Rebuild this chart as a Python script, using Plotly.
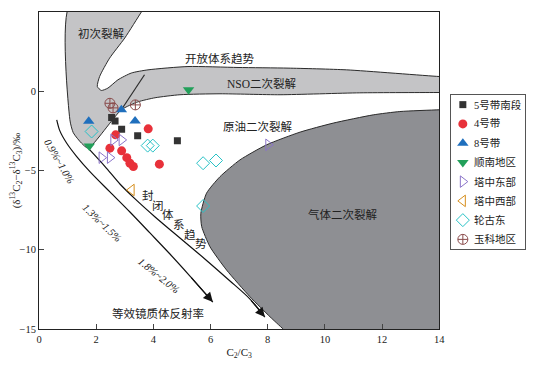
import plotly.graph_objects as go

# ---------------- data ----------------
series_names = ["5号带南段", "4号带", "8号带", "顺南地区", "塔中东部", "塔中西部", "轮古东", "玉科地区"]

s5_x = [2.54, 2.66, 2.89, 3.45, 4.84]
s5_y = [-1.66, -1.87, -2.39, -2.80, -3.13]

s4_x = [2.68, 2.48, 2.89, 3.07, 3.18, 3.30, 3.82, 4.21]
s4_y = [-2.75, -3.59, -3.76, -4.19, -4.54, -4.75, -2.37, -4.60]

s8_x = [1.74, 2.88, 3.36]
s8_y = [-1.89, -1.17, -1.87]

sn_x = [5.23, 1.76]
sn_y = [0.09, -3.45]

tzd_x = [2.60, 2.89, 2.19, 2.48, 8.02]
tzd_y = [-3.07, -3.07, -4.19, -4.19, -3.38]

tzx_x = [3.24]
tzx_y = [-6.23]

lgd_x = [1.84, 3.80, 3.98, 5.74, 6.19, 5.74]
lgd_y = [-2.54, -3.43, -3.43, -4.54, -4.37, -7.24]

yk_x = [2.48, 2.59, 3.37]
yk_y = [-0.76, -1.05, -0.86]

# region boundaries (diagram outlines, data units)
upper_x = [1.09, 3.76, 3.58, 3.00, 2.47, 2.12, 2.04, 2.18, 2.41, 2.76, 3.23, 3.81, 5.21, 6.96, 8.71,
           10.76, 14.0, 14.5, 14.5, 14.0, 11.22, 8.43, 6.33, 4.93, 4.06, 3.46, 2.88, 1.72, 1.49,
           1.20, 1.08, 1.09]
upper_y = [5.5, 5.5, 5.0, 3.36, 2.09, 0.93, 0.30, 0.05, 0.20, 0.72, 1.15, 1.35, 1.56, 1.50, 1.46,
           1.35, 0.93, 0.90, -0.08, -0.08, -0.10, -0.22, -0.16, -0.22, -0.41, -0.67, -1.17, -3.59,
           -3.28, -2.62, -1.80, 5.5]

lower_x = [14.5, 14.0, 12.62, 11.69, 10.29, 9.13, 7.96, 7.03, 6.33, 5.86, 5.66, 5.69, 5.98, 6.56,
           7.38, 8.08, 8.54, 8.85, 14.5, 14.5]
lower_y = [-1.15, -1.17, -1.28, -1.49, -2.01, -2.58, -3.38, -4.33, -5.39, -6.43, -7.70, -8.54,
           -9.81, -11.28, -12.97, -14.23, -15.0, -15.5, -15.5, -1.15]

divider_x = [3.69, 2.88]
divider_y = [1.04, -1.17]

lineA_x = [0.62, 0.73, 0.97, 1.32, 1.78, 2.48, 3.18, 3.88, 4.58, 5.28, 6.08]
lineA_y = [-1.80, -2.50, -3.28, -4.12, -5.07, -6.35, -7.62, -8.94, -10.27, -11.66, -13.30]

lineB_x = [1.72, 2.31, 2.83, 3.36, 4.06, 4.93, 5.80, 6.68, 7.38, 7.90]
lineB_y = [-3.59, -4.75, -5.85, -6.79, -7.93, -9.26, -10.58, -11.97, -13.11, -14.25]

x_ticks = [0, 2, 4, 6, 8, 10, 12, 14]
y_ticks = [5, 0, -5, -10, -15]

# ---------------- figure ----------------
FONT = "Liberation Serif, Noto Sans CJK SC"
DARK = "#2b2b2b"

# page has an 8px body margin; figure is sized so the plot lands where the reference has it
W, H = 526, 363
ML, MT, MB = 31, 4, 42
PLOT_W = 494                       # width of the full domain area (W - ML - 1)
MAIN_DOM = [0, 400.3 / PLOT_W]
LEG_DOM_X = [(443 - ML) / PLOT_W, (517 - ML) / PLOT_W]
PH = H - MT - MB
LEG_DOM_Y = [(H - MB - 241) / PH, (H - MB - 87) / PH]

fig = go.Figure()

fig.add_trace(go.Scatter(x=upper_x, y=upper_y, mode="lines", fill="toself",
                         fillcolor="#c4c4c6", line=dict(color=DARK, width=1, shape="spline", smoothing=0.6),
                         showlegend=False, hoverinfo="skip"))
fig.add_trace(go.Scatter(x=lower_x, y=lower_y, mode="lines", fill="toself",
                         fillcolor="#8e8f93", line=dict(color=DARK, width=1, shape="spline", smoothing=0.6),
                         showlegend=False, hoverinfo="skip"))
fig.add_trace(go.Scatter(x=divider_x, y=divider_y, mode="lines", line=dict(color=DARK, width=1.2),
                         showlegend=False, hoverinfo="skip"))
fig.add_trace(go.Scatter(x=lineA_x, y=lineA_y, mode="lines",
                         line=dict(color="#111", width=1.2, shape="spline", smoothing=0.8),
                         showlegend=False, hoverinfo="skip"))
fig.add_trace(go.Scatter(x=lineB_x, y=lineB_y, mode="lines",
                         line=dict(color="#111", width=1.2, shape="spline", smoothing=0.8),
                         showlegend=False, hoverinfo="skip"))

series = [
    (s5_x, s5_y, "square", "#333333", 7, 0),
    (s4_x, s4_y, "circle", "#e8313a", 9, 0),
    (s8_x, s8_y, "triangle-up", "#1f6fbd", 10, 0),
    (sn_x, sn_y, "triangle-down", "#22a05a", 10, 0),
    (tzd_x, tzd_y, "triangle-right-open", "#8b74c9", 10, 1),
    (tzx_x, tzx_y, "triangle-left-open", "#d68f1e", 10, 1),
    (lgd_x, lgd_y, "diamond-open", "#27c2c6", 10, 1),
    (yk_x, yk_y, "circle-cross-open", "#8a4b4b", 10, 1),
]
n = len(series_names)
for i, (name, (xs, ys, sym, col, size, lw)) in enumerate(zip(series_names, series)):
    mk = dict(symbol=sym, color=col, size=size, line=dict(color=col, width=lw))
    fig.add_trace(go.Scatter(x=xs, y=ys, mode="markers", name=name, marker=mk, showlegend=False))
    # legend entry drawn in its own small frame
    ly = 1 - (i + 0.5) / n
    fig.add_trace(go.Scatter(x=[0.16], y=[ly], mode="markers", marker=mk, xaxis="x2", yaxis="y2",
                             showlegend=False, hoverinfo="skip"))
    fig.add_annotation(x=0.29, y=ly, xref="x2", yref="y2", text=name, showarrow=False,
                       xanchor="left", font=dict(family=FONT, size=10.5, color="#222"))

# arrowheads at line ends
for lx, ly in [(lineA_x, lineA_y), (lineB_x, lineB_y)]:
    fig.add_annotation(x=lx[-1], y=ly[-1], ax=lx[-2], ay=ly[-2], xref="x", yref="y",
                       axref="x", ayref="y", showarrow=True, arrowhead=2, arrowsize=1.6,
                       arrowwidth=1.2, arrowcolor="#111", text="")

labels = [
    ("初次裂解", 2.19, 3.67, 0, 11.5),
    ("开放体系趋势", 6.32, 2.09, 0, 11.5),
    ("NSO二次裂解", 7.80, 0.47, 0, 11.5),
    ("原油二次裂解", 7.64, -2.23, 0, 11.5),
    ("气体二次裂解", 10.63, -7.76, 0, 11.5),
    ("等效镜质体反射率", 4.17, -14.01, 0, 11.5),
    ("<i>0.9%~1.0%</i>", 0.70, -4.46, 60, 10.5),
    ("<i>1.3%~1.5%</i>", 2.22, -8.34, 44, 10.5),
    ("<i>1.8%~2.0%</i>", 4.18, -11.63, 39, 10.5),
]
for txt, x, y, ang, fs in labels:
    fig.add_annotation(x=x, y=y, text=txt, showarrow=False, textangle=ang,
                       font=dict(family=FONT, size=fs, color="#222"))

closed_chars = ["封", "闭", "体", "系", "趋", "势"]
closed_x = [3.80, 4.15, 4.50, 4.89, 5.27, 5.65]
closed_y = [-6.59, -7.22, -7.79, -8.42, -9.05, -9.62]
for ch, x, y in zip(closed_chars, closed_x, closed_y):
    fig.add_annotation(x=x, y=y, text=ch, showarrow=False,
                       font=dict(family=FONT, size=11.5, color="#222"))

fig.update_layout(
    width=W, height=H,
    margin=dict(l=ML, r=W - ML - PLOT_W, t=MT, b=MB, autoexpand=False),
    paper_bgcolor="white", plot_bgcolor="white",
    font=dict(family=FONT, size=10.5, color="#222"),
    showlegend=False,
    xaxis=dict(domain=MAIN_DOM, range=[0, 14], tickvals=x_ticks, ticks="inside", ticklen=5,
               showline=True, linecolor="#222", linewidth=1, mirror=True,
               showgrid=False, zeroline=False,
               title=dict(text="C<sub>2</sub>/C<sub>3</sub>", font=dict(size=11), standoff=4)),
    yaxis=dict(range=[-15, 5], tickvals=y_ticks, ticks="inside", ticklen=5,
               showline=True, linecolor="#222", linewidth=1, mirror=True,
               showgrid=False, zeroline=False,
               title=dict(text="(δ<sup>13</sup>C<sub>2</sub>−δ<sup>13</sup>C<sub>3</sub>)/‰",
                          font=dict(size=11), standoff=6)),
    xaxis2=dict(domain=LEG_DOM_X, range=[0, 1], anchor="y2", showline=True, mirror=True,
                linecolor="#555", linewidth=1.2, showticklabels=False, ticks="",
                showgrid=False, zeroline=False, fixedrange=True),
    yaxis2=dict(domain=LEG_DOM_Y, range=[0, 1], anchor="x2", showline=True, mirror=True,
                linecolor="#555", linewidth=1.2, showticklabels=False, ticks="",
                showgrid=False, zeroline=False, fixedrange=True),
)

fig.write_html("out.html")
